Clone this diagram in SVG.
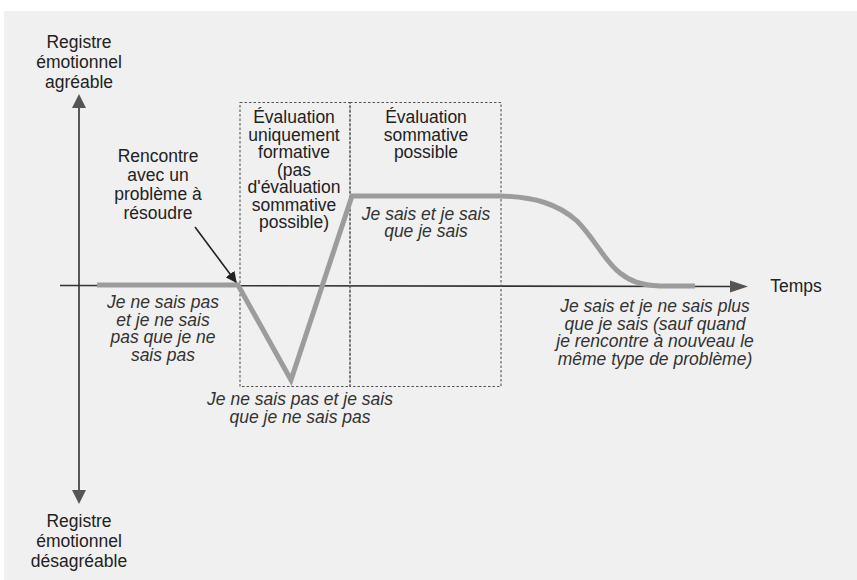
<svg xmlns="http://www.w3.org/2000/svg" width="857" height="580" viewBox="0 0 857 580">
<style>
text{font-family:"Liberation Sans",Arial,sans-serif;font-size:17.5px;fill:#222;text-anchor:middle}
.it{font-style:italic;fill:#333}
.axis{stroke:#333;stroke-width:1.6;fill:none}
.box{stroke:#555;stroke-width:1.1;stroke-dasharray:2.5 2;fill:none}
.curve{stroke:#9c9c9c;stroke-width:5;fill:none;stroke-linejoin:miter}
.head{fill:#555}
</style>
<defs>
<marker id="ah" viewBox="0 0 10 10" refX="9" refY="5" markerWidth="11" markerHeight="11" markerUnits="userSpaceOnUse" orient="auto">
<path d="M0,0 L10,5 L0,10 z" fill="#222"/>
</marker>
</defs>
<rect x="0" y="0" width="857" height="580" fill="#ffffff"/>
<rect x="4" y="11" width="853" height="569" fill="#f0f0f0"/>

<g id="axes">
<line class="axis" x1="79" y1="104" x2="79" y2="492"/>
<path class="head" d="M79,94 L72,108 L86,108 z"/>
<path class="head" d="M79,504 L72,490 L86,490 z"/>
<line class="axis" x1="60" y1="285.5" x2="733" y2="286.5"/>
<path class="head" d="M748,286.5 L730,280.5 L730,292.5 z"/>
</g>

<g id="boxes">
<rect class="box" x="240" y="102.5" width="110" height="284"/>
<rect class="box" x="350" y="102.5" width="151" height="284"/>
</g>

<g id="connectors">
<path class="curve" d="M97,285 L238,285 L291,380 L352,196 L500,196 C535,197 558,204 577,221 C595,239 605,262 620,273 C630,281 640,285 660,286 L695,286"/>
<line x1="195" y1="227" x2="236" y2="282" stroke="#222" stroke-width="1.6" marker-end="url(#ah)"/>
</g>

<g id="label-agreable">
<text x="79" y="48">Registre</text>
<text x="79" y="68">émotionnel</text>
<text x="79" y="88">agréable</text>
</g>
<g id="label-desagreable">
<text x="79" y="527">Registre</text>
<text x="79" y="547">émotionnel</text>
<text x="79" y="567">désagréable</text>
</g>
<g id="label-temps">
<text x="796" y="292">Temps</text>
</g>
<g id="label-rencontre">
<text x="158" y="162">Rencontre</text>
<text x="158" y="181">avec un</text>
<text x="158" y="200">problème à</text>
<text x="158" y="219">résoudre</text>
</g>
<g id="label-formative">
<text x="294" y="123">Évaluation</text>
<text x="294" y="140.5">uniquement</text>
<text x="294" y="158">formative</text>
<text x="294" y="175.5">(pas</text>
<text x="294" y="193">d'évaluation</text>
<text x="294" y="210.5">sommative</text>
<text x="294" y="228">possible)</text>
</g>
<g id="label-sommative">
<text x="426" y="123">Évaluation</text>
<text x="426" y="140.5">sommative</text>
<text x="426" y="158">possible</text>
</g>
<g id="label-je-sais">
<text class="it" x="426" y="220">Je sais et je sais</text>
<text class="it" x="426" y="237">que je sais</text>
</g>
<g id="label-ne-sais-pas">
<text class="it" x="163" y="308">Je ne sais pas</text>
<text class="it" x="163" y="326">et je ne sais</text>
<text class="it" x="163" y="343">pas que je ne</text>
<text class="it" x="163" y="361">sais pas</text>
</g>
<g id="label-sais-ne-sais-pas">
<text class="it" x="300" y="405">Je ne sais pas et je sais</text>
<text class="it" x="300" y="423">que je ne sais pas</text>
</g>
<g id="label-ne-sais-plus">
<text class="it" x="655" y="312">Je sais et je ne sais plus</text>
<text class="it" x="655" y="330">que je sais (sauf quand</text>
<text class="it" x="655" y="347">je rencontre à nouveau le</text>
<text class="it" x="655" y="365">même type de problème)</text>
</g>
</svg>
